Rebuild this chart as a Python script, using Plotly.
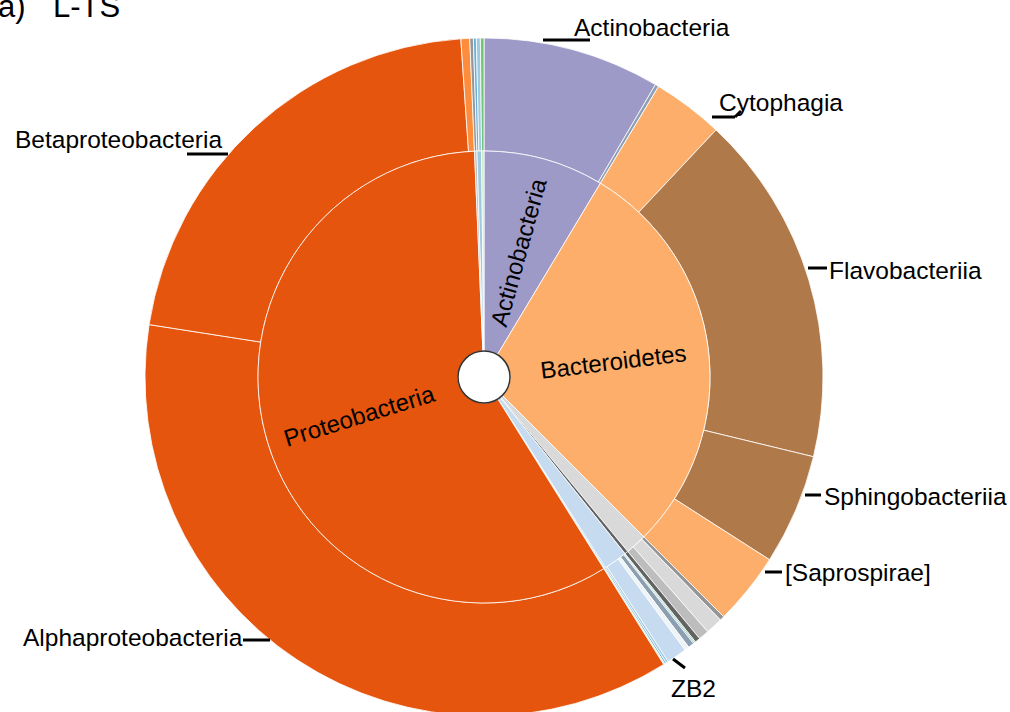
import math
import plotly.graph_objects as go

W, H = 1010, 716

# inner ring: phyla (relative abundance, %), clockwise from 12 o'clock
phyla = ["Actinobacteria", "Bacteroidetes", "Chloroflexi", "Cyanobacteria", "OD1",
         "Verrucomicrobia", "Planctomycetes", "Proteobacteria", "Firmicutes",
         "Acidobacteria", "Gemmatimonadetes"]
phyla_values = [8.61, 28.89, 1.53, 0.25, 1.69, 0.08, 0.06, 58.22, 0.17, 0.33, 0.17]
phyla_colors = ["#9e9ac8", "#fdae6b", "#d9d9d9", "#636363", "#c6dbef",
                "#6baed6", "#c7e9c0", "#e6550d", "#bdbdbd", "#9ecae1", "#c7e9c0"]

# outer ring: classes, same order
classes = ["Actinobacteria", "Acidimicrobiia", "Cytophagia", "Flavobacteriia",
           "Sphingobacteriia", "[Saprospirae]", "Anaerolineae", "Chloroflexi (c)",
           "Thermomicrobia", "Synechococcophycideae", "OD1 (a)", "OD1 (b)", "OD1 (c)",
           "OD1 (d)", "ZB2", "OD1 (e)", "Verrucomicrobiae", "Planctomycetia",
           "Alphaproteobacteria", "Betaproteobacteria", "Gammaproteobacteria",
           "Bacilli", "Acidobacteria-6", "Solibacteres", "Gemm-1"]
class_values = [8.44, 0.17, 3.39, 16.78, 5.28, 3.44, 0.22, 0.81, 0.50, 0.25,
                0.06, 0.06, 0.28, 0.22, 0.96, 0.11, 0.08, 0.06,
                36.36, 21.44, 0.42, 0.17, 0.14, 0.19, 0.17]
class_colors = ["#9e9ac8", "#8da0b8", "#fdae6b", "#b0794a", "#b0794a", "#fdae6b",
                "#969696", "#d9d9d9", "#bdbdbd", "#636363", "#74c476", "#6baed6",
                "#8c9fb0", "#eef3f8", "#c6dbef", "#9ecae1", "#6baed6", "#c7e9c0",
                "#e6550d", "#e6550d", "#fd8d3c", "#969696", "#6baed6", "#9ecae1",
                "#74c476"]

# labelled classes: (text, anchor x px, y px, xanchor)
outer_labels = [
    ("Actinobacteria", 572, 27, "left"),
    ("Cytophagia", 717, 103, "left"),
    ("Flavobacteriia", 827, 270, "left"),
    ("Sphingobacteriia", 822, 496, "left"),
    ("[Saprospirae]", 783, 572, "left"),
    ("Betaproteobacteria", 224, 140, "right"),
    ("Alphaproteobacteria", 245, 637, "right"),
    ("ZB2", 693, 688, "center"),
]
leader_lines = [
    (543, 40, 590, 40), (712, 117, 735, 117), (735, 117, 741, 111),
    (808, 268, 827, 268), (805, 495, 821, 495), (765, 572, 782, 572),
    (187, 154, 228, 154), (243, 640, 270, 640), (673, 659, 685, 668),
]

CX, CY = 484, 377
R_OUT, R_IN, R_HOLE = 339, 226, 26
R_TEXT = 130


def px(x, y):
    return x / W, 1 - y / H


def dom(r):
    return dict(x=[(CX - r) / W, (CX + r) / W], y=[(H - CY - r) / H, (H - CY + r) / H])


fig = go.Figure()

fig.add_trace(go.Pie(
    labels=classes, values=class_values, sort=False, direction="clockwise",
    rotation=0, hole=R_IN / R_OUT, domain=dom(R_OUT),
    marker=dict(colors=class_colors, line=dict(color="white", width=0.8)),
    textinfo="none", showlegend=False,
))

fig.add_trace(go.Pie(
    labels=phyla, values=phyla_values, sort=False, direction="clockwise",
    rotation=0, hole=R_HOLE / R_IN, domain=dom(R_IN),
    marker=dict(colors=phyla_colors, line=dict(color="white", width=0.8)),
    textinfo="none", showlegend=False,
))

annotations = []

# radial labels of the big phyla, placed at the middle angle of each slice
total = sum(phyla_values)
cum = 0
for name, v in zip(phyla, phyla_values):
    mid = 360 * (cum + v / 2) / total
    cum += v
    if v < 5:
        continue
    a = math.radians(mid)
    x = CX + R_TEXT * math.sin(a)
    y = CY - R_TEXT * math.cos(a)
    ang = mid - 90
    if ang > 90:
        ang -= 180
    ax, ay = px(x, y)
    annotations.append(dict(x=ax, y=ay, xref="paper", yref="paper", text=name,
                            showarrow=False, textangle=ang, xanchor="center",
                            yanchor="middle", font=dict(size=24, color="black")))

for txt, x, y, xa in outer_labels:
    ax, ay = px(x, y)
    annotations.append(dict(x=ax, y=ay, xref="paper", yref="paper", text=txt,
                            showarrow=False, xanchor=xa, yanchor="middle",
                            font=dict(size=24.5, color="black")))
for txt, x in [("a)", -4), ("L-TS", 51)]:
    ax, ay = px(x, 7)
    annotations.append(dict(x=ax, y=ay, xref="paper", yref="paper", text=txt,
                            showarrow=False, xanchor="left", yanchor="middle",
                            font=dict(size=31, color="black")))

shapes = []
for x0, y0, x1, y1 in leader_lines:
    a0, b0 = px(x0, y0)
    a1, b1 = px(x1, y1)
    shapes.append(dict(type="line", xref="paper", yref="paper", x0=a0, y0=b0,
                       x1=a1, y1=b1, line=dict(color="black", width=3)))
c0x, c0y = px(CX - R_HOLE, CY + R_HOLE)
c1x, c1y = px(CX + R_HOLE, CY - R_HOLE)
shapes.append(dict(type="circle", xref="paper", yref="paper", x0=c0x, y0=c0y,
                   x1=c1x, y1=c1y, fillcolor="white",
                   line=dict(color="#333333", width=1.5)))

fig.update_layout(
    width=W, height=H,
    margin=dict(l=0, r=0, t=0, b=0),
    paper_bgcolor="white", plot_bgcolor="white",
    font=dict(family="Liberation Sans, Arial, sans-serif", color="black"),
    annotations=annotations, shapes=shapes,
)

fig.write_html(
    "out.html",
    config={"displayModeBar": False},
    post_script="document.body.style.margin='0';document.body.style.overflow='hidden';",
)
